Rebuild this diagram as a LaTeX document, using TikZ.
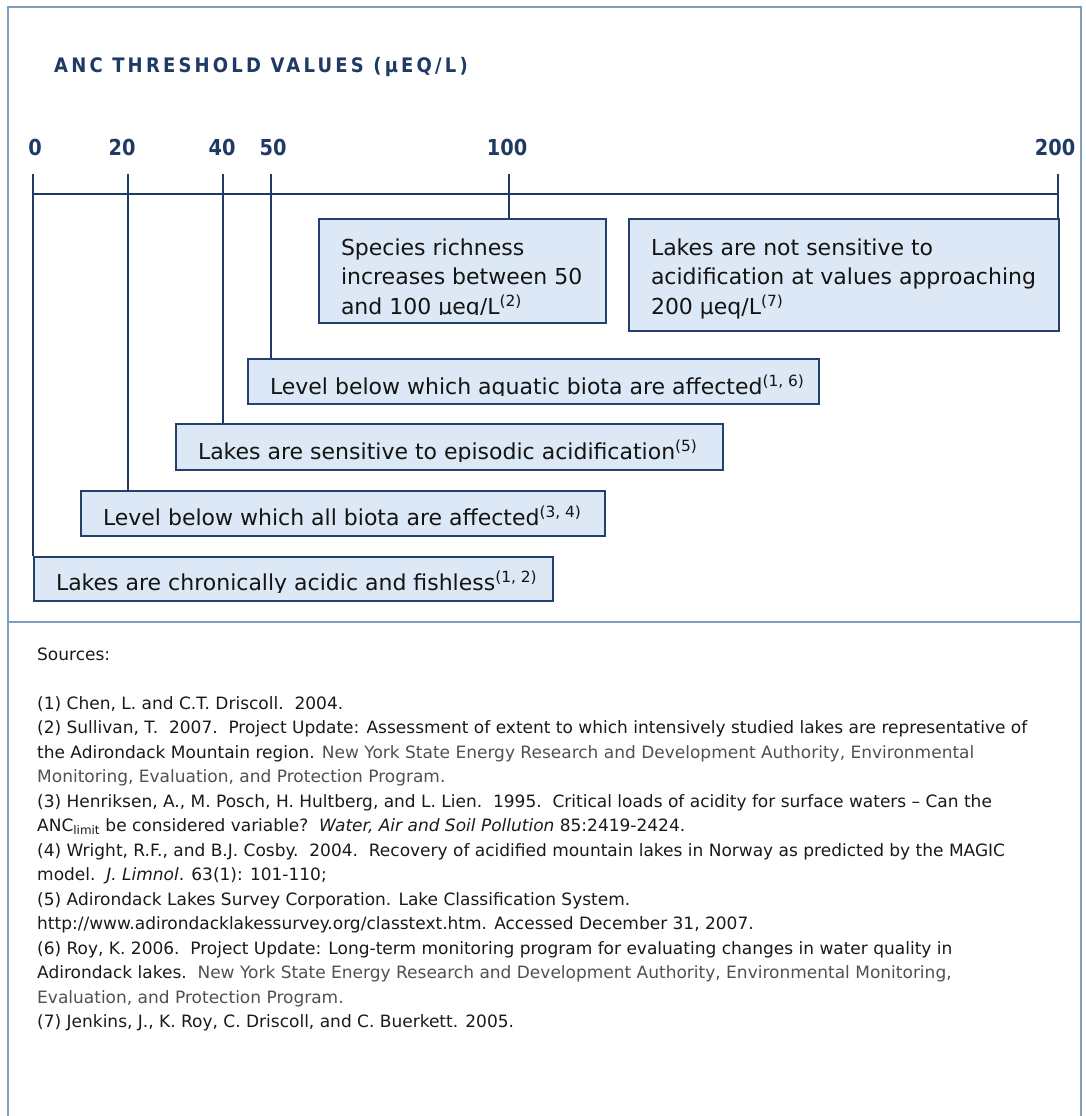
\documentclass[tikz,border=0pt]{standalone}
\usepackage{fontspec}
\setmainfont{DejaVu Sans}
\newfontfamily\titlefont{DejaVu Sans}[FakeStretch=0.9, LetterSpace=16]
\newfontfamily\numfont{DejaVu Sans}[FakeStretch=0.88]
\usetikzlibrary{positioning}

\definecolor{ancnavy}{HTML}{1F3A64}
\definecolor{boxfill}{HTML}{DCE8F5}
\definecolor{boxedge}{HTML}{24406C}
\definecolor{framecol}{HTML}{7F9DBC}
\definecolor{refgray}{HTML}{505050}

\tikzset{
  frameline/.style={draw=framecol, line width=2.5pt},
  axisline/.style={draw=ancnavy, line width=2.2pt},
  ticklabel/.style={font=\numfont\fontsize{22}{26}\selectfont\bfseries, text=ancnavy, anchor=base, inner sep=0pt},
  notebox/.style={draw=boxedge, line width=2pt, fill=boxfill, anchor=north west, inner sep=0pt},
  notetext/.style={font=\fontsize{22}{29.5}\selectfont, anchor=base west, align=left, inner sep=0pt,
    minimum width=0pt, minimum height=0pt, draw=none, fill=none, text=black!92},
}

% text of a note box, cut at the lower inner edge (#1 = last baseline below the top)
\newcommand\notefill[2]{%
  \clip ([yshift=9pt]path picture bounding box.south west) rectangle (path picture bounding box.north east);
  \node[notetext] at ([xshift=21pt,yshift=-#1]path picture bounding box.north west) {#2};}

\begin{document}
\begin{tikzpicture}[x=1pt, y=-1pt]
    \useasboundingbox (0,0) rectangle (1086,1116);

    % frame
    \draw[frameline] (8,1116) -- (8,7) -- (1081,7) -- (1081,1116);
    \draw[frameline] (8,622) -- (1081,622);

    \node[anchor=base west, inner sep=0pt, text=ancnavy, font=\titlefont\fontsize{20}{24}\selectfont\bfseries] (title) at (54,72) {ANC THRESHOLD VALUES (µEQ/L)};

    % axis
    \coordinate (axisL) at (33,194);
    \coordinate (axisR) at (1058,194);
    \coordinate (tk0) at (33,174);
    \coordinate (tk20) at (128,174);
    \coordinate (tk40) at (223,174);
    \coordinate (tk50) at (271,174);
    \coordinate (tk100) at (509,174);
    \coordinate (tk200) at (1058,174);

    \node[ticklabel] (lab0) at (35,155) {0};
    \node[ticklabel] (lab20) at (122,155) {20};
    \node[ticklabel] (lab40) at (222,155) {40};
    \node[ticklabel] (lab50) at (273,155) {50};
    \node[ticklabel] (lab100) at (507,155) {100};
    \node[ticklabel] (lab200) at (1055,155) {200};

    % notes
    \node[notebox, minimum width=287pt, minimum height=104pt,
      path picture={\notefill{95pt}{Species richness\\increases between 50\\and 100 µeq/L\textsuperscript{(2)}}}] (richness) at (318,218) {};
    \node[notebox, minimum width=430pt, minimum height=112pt,
      path picture={\notefill{95pt}{Lakes are not sensitive to\\acidification at values approaching\\200 µeq/L\textsuperscript{(7)}}}] (notsens) at (628,218) {};
    \node[notebox, minimum width=571pt, minimum height=45pt,
      path picture={\notefill{35pt}{Level below which aquatic biota are affected\textsuperscript{(1, 6)}}}] (aquatic) at (247,358) {};
    \node[notebox, minimum width=547pt, minimum height=46pt,
      path picture={\notefill{35pt}{Lakes are sensitive to episodic acidification\textsuperscript{(5)}}}] (episodic) at (175,423) {};
    \node[notebox, minimum width=524pt, minimum height=45pt,
      path picture={\notefill{34pt}{Level below which all biota are affected\textsuperscript{(3, 4)}}}] (allbiota) at (80,490) {};
    \node[notebox, minimum width=519pt, minimum height=44pt,
      path picture={\notefill{33pt}{Lakes are chronically acidic and fishless\textsuperscript{(1, 2)}}}] (chronic) at (33,556) {};

    \draw[axisline] (axisL) -- (axisR);
    \draw[axisline] (tk0) -- (tk0 |- chronic.north);
    \draw[axisline] (tk20) -- (tk20 |- allbiota.north);
    \draw[axisline] (tk40) -- (tk40 |- episodic.north);
    \draw[axisline] (tk50) -- (tk50 |- aquatic.north);
    \draw[axisline] (tk100) -- (tk100 |- richness.north);
    \draw[axisline] (tk200) -- (tk200 |- notsens.north);

    % sources (the base of the node is its last line)
    \node[anchor=base west, align=left, inner sep=0pt, text=black!90, font=\fontsize{17}{24.5}\selectfont] (sources) at (37,1027.5) {%
      Sources:\\[24.5pt]
      (1) Chen, L. and C.T. Driscoll.\ \ 2004.\\
      (2) Sullivan, T.\ \ 2007.\ \ Project Update: Assessment of extent to which intensively studied lakes are representative of\\
      the Adirondack Mountain region. \textcolor{refgray}{New York State Energy Research and Development Authority, Environmental}\\
      \textcolor{refgray}{Monitoring, Evaluation, and Protection Program.}\\
      (3) Henriksen, A., M. Posch, H. Hultberg, and L. Lien.\ \ 1995.\ \ Critical loads of acidity for surface waters – Can the\\
      ANC\textsubscript{limit} be considered variable?\ \ \textit{Water, Air and Soil Pollution} 85:2419-2424.\\
      (4) Wright, R.F., and B.J. Cosby.\ \ 2004.\ \ Recovery of acidified mountain lakes in Norway as predicted by the MAGIC\\
      model.\ \ \textit{J. Limnol}. 63(1): 101-110;\\
      (5) Adirondack Lakes Survey Corporation. Lake Classification System.\\
      http://www.adirondacklakessurvey.org/classtext.htm. Accessed December 31, 2007.\\
      (6) Roy, K. 2006.\ \ Project Update: Long-term monitoring program for evaluating changes in water quality in\\
      Adirondack lakes.\ \ \textcolor{refgray}{New York State Energy Research and Development Authority, Environmental Monitoring,}\\
      \textcolor{refgray}{Evaluation, and Protection Program.}\\
      (7) Jenkins, J., K. Roy, C. Driscoll, and C. Buerkett. 2005.};
\end{tikzpicture}
\end{document}
